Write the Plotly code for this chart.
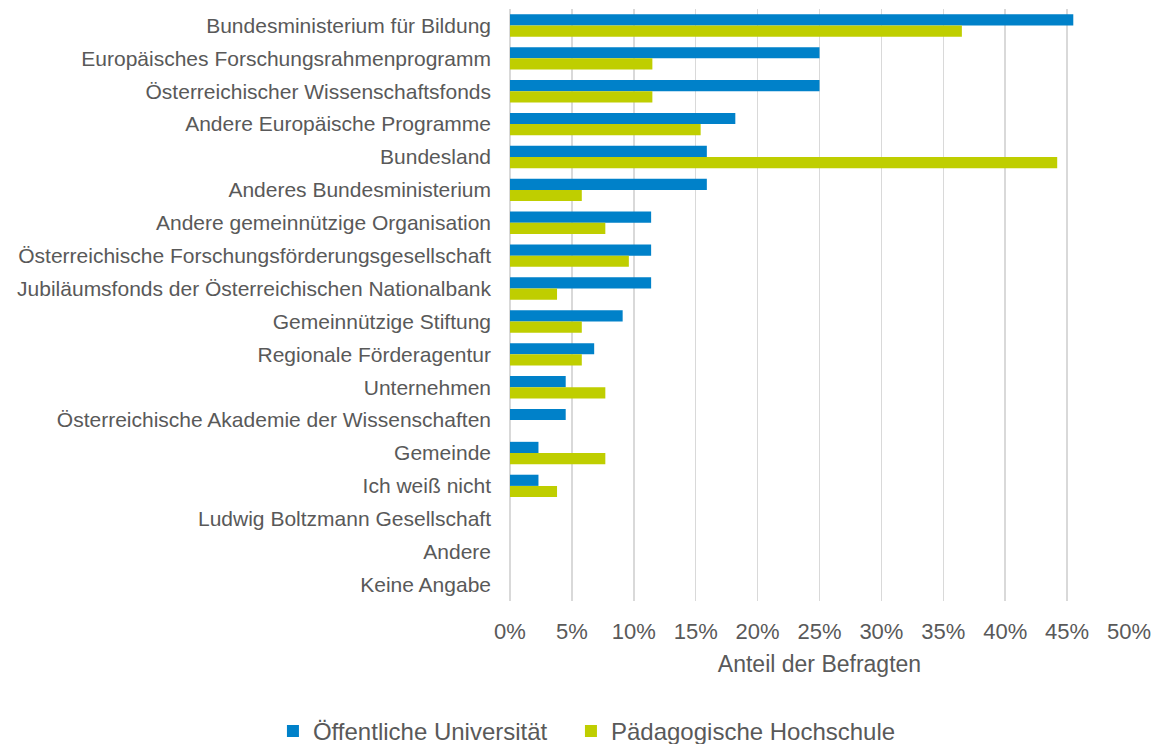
import plotly.graph_objects as go

categories = [
    "Bundesministerium für Bildung",
    "Europäisches Forschungsrahmenprogramm",
    "Österreichischer Wissenschaftsfonds",
    "Andere Europäische Programme",
    "Bundesland",
    "Anderes Bundesministerium",
    "Andere gemeinnützige Organisation",
    "Österreichische Forschungsförderungsgesellschaft",
    "Jubiläumsfonds der Österreichischen Nationalbank",
    "Gemeinnützige Stiftung",
    "Regionale Förderagentur",
    "Unternehmen",
    "Österreichische Akademie der Wissenschaften",
    "Gemeinde",
    "Ich weiß nicht",
    "Ludwig Boltzmann Gesellschaft",
    "Andere",
    "Keine Angabe",
]
uni = [45.5, 25.0, 25.0, 18.2, 15.9, 15.9, 11.4, 11.4, 11.4, 9.1, 6.8, 4.5, 4.5, 2.3, 2.3, 0, 0, 0]
ph = [36.5, 11.5, 11.5, 15.4, 44.2, 5.8, 7.7, 9.6, 3.8, 5.8, 5.8, 7.7, 0, 7.7, 3.8, 0, 0, 0]
series_names = ["Öffentliche Universität", "Pädagogische Hochschule"]
tick_vals = [0, 5, 10, 15, 20, 25, 30, 35, 40, 45, 50]
tick_text = [f"{v}%" for v in tick_vals]

font = "Liberation Sans, Arial, sans-serif"
grey = "#595959"

fig = go.Figure()
fig.add_trace(go.Bar(y=categories, x=uni, orientation="h", name=series_names[0],
                     marker=dict(color="#0081C9", line=dict(width=0)), legend="legend2"))
fig.add_trace(go.Bar(y=categories, x=ph, orientation="h", name=series_names[1],
                     marker=dict(color="#BFCE00", line=dict(width=0)), legend="legend3"))

legend_common = dict(orientation="h", xanchor="left", xref="container",
                     y=0.017, yref="container", yanchor="middle",
                     font=dict(size=24, color=grey), itemwidth=30,
                     bgcolor="rgba(0,0,0,0)", visible=True)

fig.update_layout(
    width=1160, height=744,
    margin=dict(l=510, r=28, t=9, b=143),
    paper_bgcolor="white", plot_bgcolor="white",
    barmode="group", bargap=0.32, bargroupgap=0,
    hovermode=False, showlegend=True,
    font=dict(family=font, color=grey, size=21),
    legend2=dict(x=0.2353, **legend_common),
    legend3=dict(x=0.4922, **legend_common),
    xaxis=dict(range=[0, 50], tickvals=tick_vals, ticktext=tick_text,
               showgrid=True, gridcolor="#D9D9D9", gridwidth=1.5,
               zeroline=True, zerolinecolor="#D9D9D9", zerolinewidth=1.5,
               showline=False, ticks="", ticklabelstandoff=15,
               tickfont=dict(size=22, color=grey), fixedrange=True,
               title=dict(text="Anteil der Befragten", font=dict(size=23, color=grey), standoff=12)),
    yaxis=dict(autorange="reversed", showgrid=False, showline=False, ticks="",
               ticklabelstandoff=18, tickfont=dict(size=21, color=grey), fixedrange=True),
)

fig.write_html("out.html", config={"displayModeBar": False, "staticPlot": True})

with open("out.html", "r", encoding="utf-8") as f:
    html = f.read()
html = html.replace("<body>", '<body style="margin:0;padding:0;overflow:hidden">', 1)
with open("out.html", "w", encoding="utf-8") as f:
    f.write(html)
